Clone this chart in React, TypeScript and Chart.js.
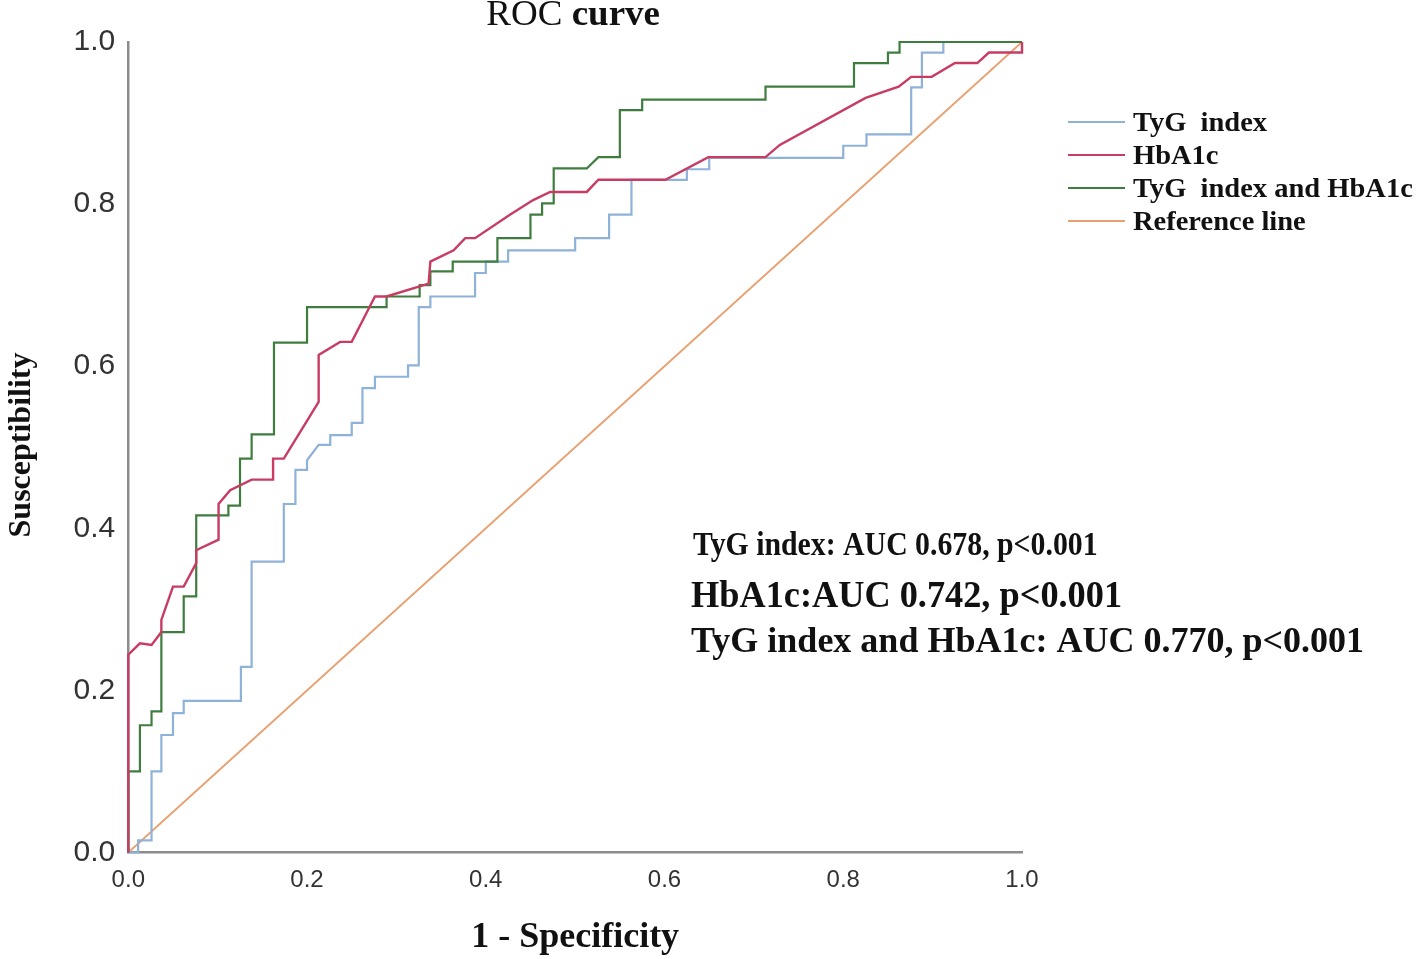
import { useEffect, useRef } from "react";
import { Chart, registerables } from "chart.js";

Chart.register(...registerables);

// ---- data (1 - specificity, sensitivity) ----
const tygX = [0, 0.011, 0.011, 0.026, 0.026, 0.037, 0.037, 0.05, 0.05, 0.062, 0.062, 0.126, 0.126, 0.138, 0.138, 0.174, 0.174, 0.187, 0.187, 0.2, 0.2, 0.213, 0.226, 0.226, 0.25, 0.25, 0.262, 0.262, 0.276, 0.276, 0.313, 0.313, 0.325, 0.325, 0.338, 0.338, 0.388, 0.388, 0.4, 0.4, 0.425, 0.425, 0.5, 0.5, 0.538, 0.538, 0.563, 0.563, 0.625, 0.625, 0.65, 0.65, 0.8, 0.8, 0.826, 0.826, 0.876, 0.876, 0.888, 0.888, 0.912, 0.912, 1.0];
const tygY = [0, 0, 0.015, 0.015, 0.1, 0.1, 0.145, 0.145, 0.172, 0.172, 0.187, 0.187, 0.229, 0.229, 0.359, 0.359, 0.43, 0.43, 0.472, 0.472, 0.484, 0.503, 0.503, 0.515, 0.515, 0.53, 0.53, 0.573, 0.573, 0.587, 0.587, 0.601, 0.601, 0.673, 0.673, 0.686, 0.686, 0.715, 0.715, 0.729, 0.729, 0.743, 0.743, 0.758, 0.758, 0.787, 0.787, 0.83, 0.83, 0.843, 0.843, 0.857, 0.857, 0.872, 0.872, 0.886, 0.886, 0.944, 0.944, 0.987, 0.987, 1.0, 1.0];

const hba1cX = [0, 0, 0.013, 0.026, 0.037, 0.037, 0.05, 0.062, 0.076, 0.076, 0.101, 0.101, 0.114, 0.138, 0.162, 0.162, 0.174, 0.213, 0.213, 0.237, 0.25, 0.276, 0.289, 0.336, 0.338, 0.364, 0.377, 0.388, 0.427, 0.453, 0.472, 0.513, 0.526, 0.601, 0.649, 0.713, 0.729, 0.825, 0.862, 0.876, 0.899, 0.925, 0.95, 0.963, 1.0, 1.0];
const hba1cY = [0, 0.244, 0.258, 0.256, 0.272, 0.287, 0.328, 0.328, 0.357, 0.373, 0.386, 0.43, 0.447, 0.46, 0.46, 0.486, 0.486, 0.556, 0.614, 0.63, 0.63, 0.686, 0.686, 0.702, 0.729, 0.743, 0.758, 0.758, 0.787, 0.805, 0.815, 0.815, 0.83, 0.83, 0.858, 0.858, 0.873, 0.931, 0.945, 0.957, 0.957, 0.974, 0.974, 0.987, 0.987, 1.0];

const comboX = [0, 0, 0.013, 0.013, 0.026, 0.026, 0.037, 0.037, 0.062, 0.062, 0.076, 0.076, 0.112, 0.112, 0.125, 0.125, 0.138, 0.138, 0.163, 0.163, 0.2, 0.2, 0.289, 0.289, 0.326, 0.326, 0.338, 0.338, 0.363, 0.363, 0.413, 0.413, 0.45, 0.45, 0.463, 0.463, 0.476, 0.476, 0.513, 0.526, 0.55, 0.55, 0.575, 0.575, 0.713, 0.713, 0.812, 0.812, 0.85, 0.85, 0.863, 0.863, 1.0];
const comboY = [0, 0.1, 0.1, 0.157, 0.157, 0.174, 0.174, 0.272, 0.272, 0.316, 0.316, 0.416, 0.416, 0.428, 0.428, 0.486, 0.486, 0.516, 0.516, 0.629, 0.629, 0.673, 0.673, 0.686, 0.686, 0.7, 0.7, 0.717, 0.717, 0.729, 0.729, 0.758, 0.758, 0.787, 0.787, 0.801, 0.801, 0.844, 0.844, 0.858, 0.858, 0.916, 0.916, 0.929, 0.929, 0.945, 0.945, 0.974, 0.974, 0.987, 0.987, 1.0, 1.0];

const refX = [0, 1];
const refY = [0, 1];

const seriesNames = ["TyG  index", "HbA1c", "TyG  index and HbA1c", "Reference line"];
const tickValues = [0, 0.2, 0.4, 0.6, 0.8, 1.0];
const tickLabels = ["0.0", "0.2", "0.4", "0.6", "0.8", "1.0"];
const aucLabels = [
  "TyG index: AUC 0.678, p<0.001",
  "HbA1c:AUC 0.742, p<0.001",
  "TyG index and HbA1c: AUC 0.770, p<0.001",
];
const titleParts = ["ROC ", "curve"];
const xTitle = "1 - Specificity";
const yTitle = "Susceptibility";

const colors = ["#8fb2d8", "#c83c64", "#3f7d3f", "#e9a070"];

const pairs = (xs: number[], ys: number[]) => xs.map((x, i) => ({ x, y: ys[i] }));

const SERIF = "'Liberation Serif', 'Times New Roman', serif";

function drawText(
  ctx: CanvasRenderingContext2D,
  text: string,
  x: number,
  y: number,
  font: string,
  align: CanvasTextAlign,
  sy = 1,
  rotate = 0
) {
  ctx.save();
  ctx.font = font;
  ctx.fillStyle = "#111";
  ctx.textAlign = align;
  ctx.textBaseline = "middle";
  ctx.translate(x, y);
  if (rotate) ctx.rotate(rotate);
  ctx.scale(1, sy);
  ctx.fillText(text, 0, 0);
  ctx.restore();
}

const decorPlugin = {
  id: "decor",
  afterDraw(chart: any) {
    const ctx: CanvasRenderingContext2D = chart.ctx;
    const area = chart.chartArea;
    const cx = (area.left + area.right) / 2;

    // title: "ROC" regular, "curve" bold
    ctx.save();
    const f1 = `37px ${SERIF}`;
    const f2 = `bold 37px ${SERIF}`;
    ctx.font = f1;
    const w1 = ctx.measureText(titleParts[0]).width;
    ctx.font = f2;
    const w2 = ctx.measureText(titleParts[1]).width;
    ctx.restore();
    const startX = cx - 2 - (w1 + w2) / 2;
    drawText(ctx, titleParts[0], startX, 16, f1, "left", 0.95);
    drawText(ctx, titleParts[1], startX + w1, 16, f2, "left", 0.95);

    // axis titles
    drawText(ctx, xTitle, cx, 938, `bold 36px ${SERIF}`, "center", 1.0);
    drawText(ctx, yTitle, 22, 445, `bold 32px ${SERIF}`, "center", 1.0, -Math.PI / 2);

    // legend
    const legendY = [123, 156, 189, 222];
    chart.data.datasets.forEach((ds: any, i: number) => {
      ctx.save();
      ctx.strokeStyle = ds.borderColor;
      ctx.lineWidth = 2;
      ctx.beginPath();
      ctx.moveTo(1068, legendY[i] - 1);
      ctx.lineTo(1125, legendY[i] - 1);
      ctx.stroke();
      ctx.restore();
      drawText(ctx, ds.label, 1133, legendY[i] + 1, `bold 28.5px ${SERIF}`, "left", 0.95);
    });

    // AUC annotations
    drawText(ctx, aucLabels[0], 693, 546, `bold 29.8px ${SERIF}`, "left", 1.12);
    drawText(ctx, aucLabels[1], 691, 597, `bold 36.3px ${SERIF}`, "left", 1.02);
    drawText(ctx, aucLabels[2], 691, 643, `bold 36px ${SERIF}`, "left", 1.02);
  },
};

export default function App() {
  const canvasRef = useRef<HTMLCanvasElement | null>(null);

  useEffect(() => {
    const canvas = canvasRef.current;
    if (!canvas) return;
    const series = [
      pairs(tygX, tygY),
      pairs(hba1cX, hba1cY),
      pairs(comboX, comboY),
      pairs(refX, refY),
    ];
    const orders = [2, 0, 1, 3];
    const widths = [2.2, 2.4, 2.2, 1.8];
    const chart = new Chart(canvas, {
      type: "line",
      data: {
        datasets: series.map((d, i) => ({
          label: seriesNames[i],
          data: d,
          borderColor: colors[i],
          backgroundColor: colors[i],
          borderWidth: widths[i],
          pointRadius: 0,
          tension: 0,
          fill: false,
          clip: false as any,
          order: orders[i],
        })),
      },
      options: {
        animation: false,
        responsive: false,
        devicePixelRatio: 1,
        parsing: false as any,
        layout: { padding: { left: 0, right: 394, top: 42, bottom: 56.5 } },
        plugins: {
          legend: { display: false },
          tooltip: { enabled: false },
          title: { display: false },
        },
        scales: {
          x: {
            type: "linear",
            min: 0,
            max: 1,
            afterBuildTicks: (s: any) => {
              s.ticks = tickValues.map((v) => ({ value: v }));
            },
            afterFit: (s: any) => {
              s.height = 50;
            },
            grid: { display: false, drawTicks: false },
            border: { display: true, color: "#8c8c8c", width: 2.5 },
            ticks: {
              padding: 13,
              color: "#333",
              font: { family: "'Liberation Sans', Arial, sans-serif", size: 24 },
              maxRotation: 0,
              autoSkip: false,
              callback: (_v: any, i: number) => tickLabels[i],
            },
          },
          y: {
            type: "linear",
            min: 0,
            max: 1,
            afterBuildTicks: (s: any) => {
              s.ticks = tickValues.map((v) => ({ value: v }));
            },
            afterFit: (s: any) => {
              s.width = 128.3;
            },
            grid: { display: false, drawTicks: false },
            border: { display: true, color: "#8c8c8c", width: 2.5 },
            ticks: {
              padding: 13,
              color: "#333",
              font: { family: "'Liberation Sans', Arial, sans-serif", size: 30 },
              autoSkip: false,
              callback: (_v: any, i: number) => tickLabels[i],
            },
          },
        },
      },
      plugins: [decorPlugin],
    });
    return () => chart.destroy();
  }, []);

  return (
    <div style={{ position: "absolute", left: 0, top: 0, width: 1416, height: 959, background: "#fff" }}>
      <canvas ref={canvasRef} width={1416} height={959} style={{ display: "block" }} />
    </div>
  );
}
